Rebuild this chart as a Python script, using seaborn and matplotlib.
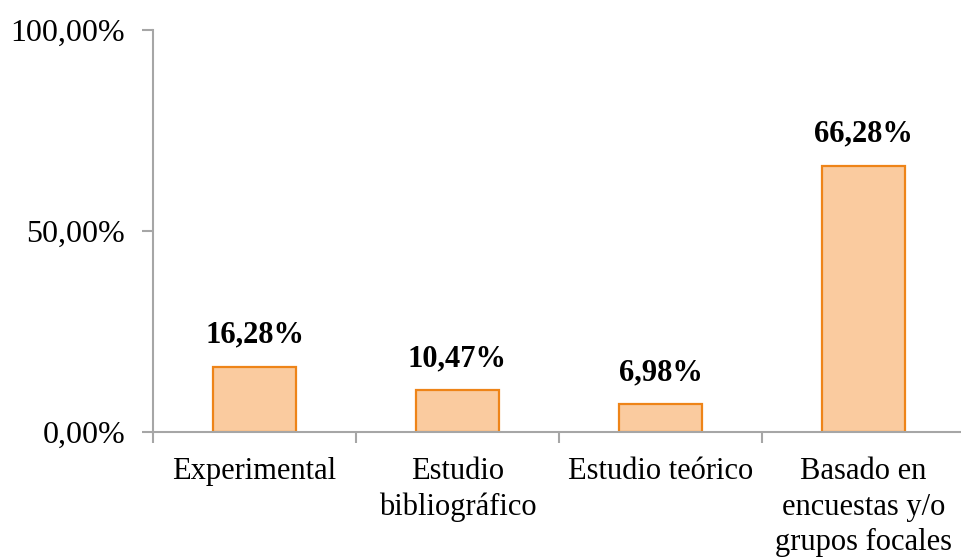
import matplotlib
matplotlib.use("Agg")
import matplotlib.pyplot as plt
import seaborn as sns
import pandas as pd
import numpy as np

categories = ["Experimental", "Estudio\nbibliográfico", "Estudio teórico",
              "Basado en\nencuestas y/o\ngrupos focales"]
values = [16.28, 10.47, 6.98, 66.28]
y_ticks = [0, 50, 100]
y_tick_labels = ["0,00%", "50,00%", "100,00%"]

df = pd.DataFrame({"categoria": categories, "valor": values})

sns.set_theme(style="white")
plt.rcParams["font.family"] = ["Liberation Serif", "DejaVu Serif"]
plt.rcParams["text.color"] = "black"
plt.rcParams["xtick.labelcolor"] = "black"
plt.rcParams["ytick.labelcolor"] = "black"

fig = plt.figure(figsize=(9.61, 5.6), dpi=100)
ax = fig.add_axes([153 / 961, 1 - 432 / 560, (965 - 153) / 961, (432 - 30) / 560])

sns.barplot(data=df, x="categoria", y="valor", ax=ax, width=0.41,
            color="#FACB9F", edgecolor="#EE8418", linewidth=1.6, saturation=1)

ax.set_xlim(-0.5, len(categories) - 0.5)
ax.set_ylim(0, 100)
ax.set_xlabel("")
ax.set_ylabel("")

ax.set_yticks(y_ticks)
ax.set_yticklabels(y_tick_labels, fontsize=23)
ax.tick_params(axis="y", length=8, width=1.5, color="#A6A6A6", pad=12, left=True)

ax.set_xticks(range(len(categories)))
ax.set_xticklabels(categories, fontsize=22, linespacing=1.3)
ax.tick_params(axis="x", which="major", length=0, pad=18)
ax.set_xticks(np.arange(-0.5, len(categories), 1), minor=True)
ax.tick_params(axis="x", which="minor", length=8, width=1.5, color="#A6A6A6", bottom=True)

for side in ["top", "right"]:
    ax.spines[side].set_visible(False)
for side in ["left", "bottom"]:
    ax.spines[side].set_color("#A6A6A6")
    ax.spines[side].set_linewidth(1.5)

for i, v in enumerate(values):
    ax.annotate(f"{v:.2f}%".replace(".", ","), (i, v), xytext=(0, 12),
                textcoords="offset points", ha="center", va="bottom",
                fontsize=22, fontweight="bold", color="black")

fig.savefig("out.png", dpi=100)
